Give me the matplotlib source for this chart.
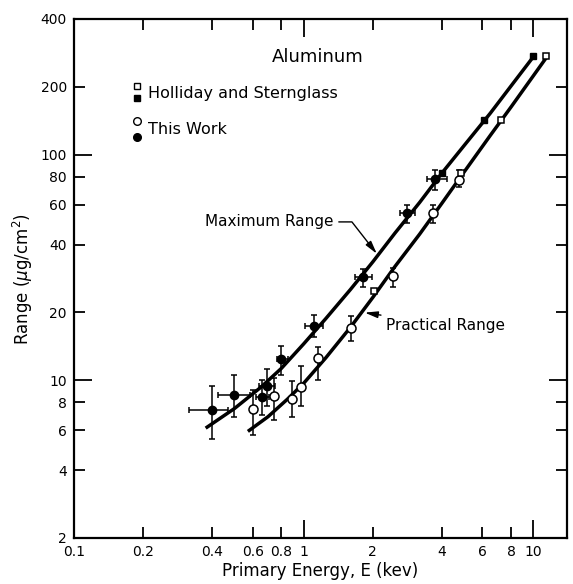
import numpy as np
import matplotlib
matplotlib.use("Agg")
import matplotlib.pyplot as plt

# curves (energy in keV, range in ug/cm^2)
max_E = [0.38, 0.5, 0.65, 0.8, 1.0, 1.25, 1.6, 2.0, 2.5, 3.2, 4.0, 5.0, 6.5, 8.0, 10.0]
max_R = [6.2, 7.5, 9.3, 11.3, 14.5, 18.8, 25.3, 33.5, 45, 61.5, 83, 110, 153, 202, 272]
prac_E = [0.58, 0.7, 0.85, 1.0, 1.25, 1.6, 2.0, 2.5, 3.2, 4.0, 5.0, 6.5, 8.0, 10.0, 11.4]
prac_R = [6.0, 6.9, 8.25, 9.7, 12.6, 17.2, 23.3, 32, 44.5, 61, 84, 122, 163, 224, 270]

# this work, maximum range (filled circles)
tw_max_E = [0.40, 0.50, 0.66, 0.69, 0.80, 1.11, 1.82, 2.83, 3.74]
tw_max_R = [7.4, 8.6, 8.4, 9.4, 12.4, 17.4, 28.8, 55.4, 78]
tw_max_Rlo = [5.5, 6.9, 7.0, 7.7, 10.6, 15.5, 25.8, 50, 70]
tw_max_Rhi = [9.4, 10.6, 10.0, 11.2, 14.2, 19.4, 31.0, 60, 86]
tw_max_Elo = [0.318, 0.425, 0.62, 0.64, 0.766, 1.01, 1.68, 2.63, 3.45]
tw_max_Ehi = [0.47, 0.585, 0.71, 0.75, 0.856, 1.22, 1.99, 3.06, 4.22]

# this work, practical range (open circles)
tw_pr_E = [0.60, 0.74, 0.89, 0.975, 1.15, 1.6, 2.45, 3.66, 4.73]
tw_pr_R = [7.45, 8.5, 8.3, 9.3, 12.5, 17.0, 28.9, 55.2, 77.6]
tw_pr_Rlo = [5.7, 6.7, 6.9, 7.7, 10.0, 15.0, 26.0, 50, 72]
tw_pr_Rhi = [9.1, 10.2, 9.9, 11.6, 14.0, 19.3, 31.5, 60, 86]

# Holliday and Sternglass
hs_max_E = [4.0, 6.1, 10.0]
hs_max_R = [83, 143, 275]
hs_pr_E = [2.03, 4.86, 7.26, 11.4]
hs_pr_R = [24.8, 83, 143, 275]

x_major = [0.1, 1, 10]
x_minor = [0.2, 0.4, 0.6, 0.8, 2, 4, 6, 8]
x_minor_lab = ["0.2", "0.4", "0.6", "0.8", "2", "4", "6", "8"]
y_major = [2, 10, 100, 400]
y_minor = [4, 6, 8, 20, 40, 60, 80, 200]

plt.rcParams["font.family"] = "DejaVu Sans"
fig = plt.figure(figsize=(5.73, 5.84), dpi=100)
ax = fig.add_axes([0.129, 0.0788, 0.8604, 0.8887])
ax.set_xscale("log")
ax.set_yscale("log")
ax.set_xlim(0.1, 14)
ax.set_ylim(2, 400)

ax.plot(max_E, max_R, color="black", lw=2.5, zorder=2)
ax.plot(prac_E, prac_R, color="black", lw=2.5, zorder=2)

def asym(v, lo, hi):
    v = np.array(v); return [v - np.array(lo), np.array(hi) - v]

ax.errorbar(tw_max_E, tw_max_R, yerr=asym(tw_max_R, tw_max_Rlo, tw_max_Rhi),
            xerr=asym(tw_max_E, tw_max_Elo, tw_max_Ehi), fmt="o", color="black",
            ms=6, elinewidth=1.1, capsize=2.5, capthick=1.1, zorder=4)
ax.errorbar(tw_pr_E, tw_pr_R, yerr=asym(tw_pr_R, tw_pr_Rlo, tw_pr_Rhi),
            fmt="o", color="black", mfc="white", mec="black", mew=1.1,
            ms=6.5, elinewidth=1.1, capsize=2.5, capthick=1.1, zorder=4)
ax.plot(hs_max_E, hs_max_R, "s", color="black", ms=4.5, zorder=5)
ax.plot(hs_pr_E, hs_pr_R, "s", mfc="white", mec="black", mew=1.1, ms=4.5, zorder=5)

# legend drawn by hand (two symbols stacked per entry)
ax.text(0.494, 0.927, "Aluminum", transform=ax.transAxes, ha="center", va="center", fontsize=13)
ax.plot([0.128], [0.871], "s", mfc="white", mec="black", mew=1.0, ms=4.5, transform=ax.transAxes)
ax.plot([0.128], [0.848], "s", color="black", ms=4.5, transform=ax.transAxes)
ax.text(0.150, 0.857, "Holliday and Sternglass", transform=ax.transAxes, va="center", fontsize=11.5)
ax.plot([0.128], [0.803], "o", mfc="white", mec="black", mew=1.0, ms=5.5, transform=ax.transAxes)
ax.plot([0.128], [0.773], "o", color="black", ms=5.5, transform=ax.transAxes)
ax.text(0.150, 0.788, "This Work", transform=ax.transAxes, va="center", fontsize=11.5)

ax.annotate("Maximum Range", xy=(2.1, 36), xycoords="data",
            xytext=(0.526, 0.609), textcoords="axes fraction", ha="right", va="center",
            fontsize=11,
            arrowprops=dict(arrowstyle="-|>,head_length=0.7,head_width=0.18", color="black",
                            lw=1.0, shrinkA=2, shrinkB=1,
                            connectionstyle="angle,angleA=0,angleB=128,rad=0"))
ax.annotate("Practical Range", xy=(1.82, 20), xycoords="data",
            xytext=(0.634, 0.410), textcoords="axes fraction", ha="left", va="center",
            fontsize=11,
            arrowprops=dict(arrowstyle="-|>,head_length=0.7,head_width=0.18", color="black",
                            lw=1.0, shrinkA=2, shrinkB=1))

ax.set_xticks(x_major, labels=["0.1", "1", "10"])
ax.set_xticks(x_minor, labels=x_minor_lab, minor=True)
ax.set_yticks(y_major, labels=[str(v) for v in y_major])
ax.set_yticks(y_minor, labels=[str(v) for v in y_minor], minor=True)
ax.tick_params(which="both", direction="in", top=True, right=True, labelsize=10, width=1.3)
ax.tick_params(which="major", length=13, pad=5)
ax.tick_params(which="minor", length=8, pad=5)
for s in ax.spines.values():
    s.set_linewidth(1.6)

ax.set_xlabel("Primary Energy, E (kev)", fontsize=12, labelpad=2)
ax.set_ylabel("Range ($\\mu$g/cm$^2$)", fontsize=12, labelpad=4)

plt.savefig("out.png", dpi=100)
